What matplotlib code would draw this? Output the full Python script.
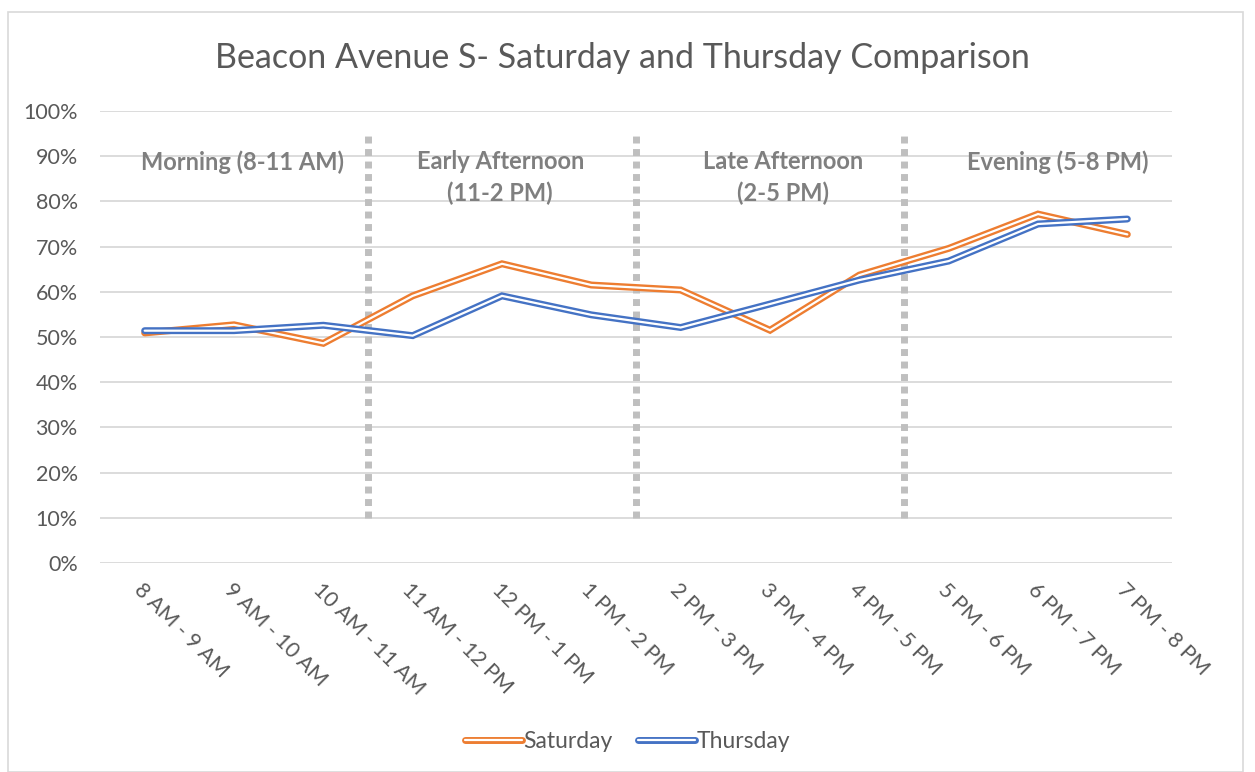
import matplotlib
matplotlib.use('Agg')
import matplotlib.pyplot as plt
import matplotlib.patheffects as pe
from matplotlib.patches import Rectangle

plt.rcParams['font.family'] = ['Lato', 'DejaVu Sans']

# time slots on the x axis
hours = ['8 AM - 9 AM', '9 AM - 10 AM', '10 AM - 11 AM', '11 AM - 12 PM',
         '12 PM - 1 PM', '1 PM - 2 PM', '2 PM - 3 PM', '3 PM - 4 PM',
         '4 PM - 5 PM', '5 PM - 6 PM', '6 PM - 7 PM', '7 PM - 8 PM']

# share in percent
saturday = [50.9, 52.7, 48.6, 59.1, 66.2, 61.5, 60.4, 51.5, 63.7, 69.6, 77.2, 72.7]
thursday = [51.4, 51.4, 52.6, 50.3, 59.1, 54.9, 52.1, 57.3, 62.6, 66.8, 75.0, 76.1]

# period separators sit between the slots
separators = [2.5, 5.5, 8.5]
periods = ['Morning (8-11 AM)', 'Early Afternoon\n(11-2 PM)',
           'Late Afternoon\n(2-5 PM)', 'Evening (5-8 PM)']
period_x = [1.1, 3.98, 7.15, 10.22]

orange = '#ED7D31'
blue = '#4472C4'
text_grey = '#595959'

fig = plt.figure(figsize=(12.55, 7.72), dpi=100)
ax = fig.add_axes([100 / 1255, 1 - 563 / 772, 1072 / 1255, 452 / 772])

# chart border
fig.patches.append(Rectangle((8 / 1255, 0), 1235 / 1255, 1 - 12 / 772,
                             transform=fig.transFigure, fill=False,
                             edgecolor='#d9d9d9', linewidth=1.2))

x = range(len(hours))


def double_line(values, color, label):
    ax.plot(x, values, color='white', lw=1.6, label=label,
            solid_capstyle='round', solid_joinstyle='miter', zorder=4,
            path_effects=[pe.Stroke(linewidth=5.0, foreground=color,
                                    capstyle='round'), pe.Normal()])


double_line(saturday, orange, 'Saturday')
double_line(thursday, blue, 'Thursday')

for s in separators:
    ax.plot([s, s], [10, 95], color='#bfbfbf', lw=5,
            linestyle=(0, (1, 0.8)), solid_capstyle='butt', zorder=3)

for lab, px in zip(periods, period_x):
    ax.text(px, 91.3, lab, ha='center', va='top', fontsize=17,
            fontweight='bold', color='#7f7f7f', linespacing=1.4, zorder=5)

ax.set_xlim(-0.5, len(hours) - 0.5)
ax.set_ylim(0, 100)
ax.set_yticks(range(0, 101, 10))
ax.set_yticklabels([f'{v}%' for v in range(0, 101, 10)])
ax.set_xticks(list(x))
ax.set_xticklabels(hours, rotation=-45, ha='left', rotation_mode='anchor')
ax.tick_params(length=0, labelsize=15.5, labelcolor=text_grey)
ax.tick_params(axis='x', pad=12)
ax.tick_params(axis='y', pad=16)
ax.grid(axis='y', color='#d9d9d9', lw=1.3)
ax.set_axisbelow(True)
for sp in ax.spines.values():
    sp.set_visible(False)

fig.text(0.4956, 0.925, 'Beacon Avenue S- Saturday and Thursday Comparison',
         ha='center', va='center', fontsize=24.5, color=text_grey)

fig.legend(loc='center', bbox_to_anchor=(0.5, 1 - 742 / 772), ncol=2,
           frameon=False, fontsize=16.5, labelcolor=text_grey,
           handlelength=2.5, handletextpad=0.05, columnspacing=1.1)

fig.savefig('out.png', dpi=100, facecolor='white')
